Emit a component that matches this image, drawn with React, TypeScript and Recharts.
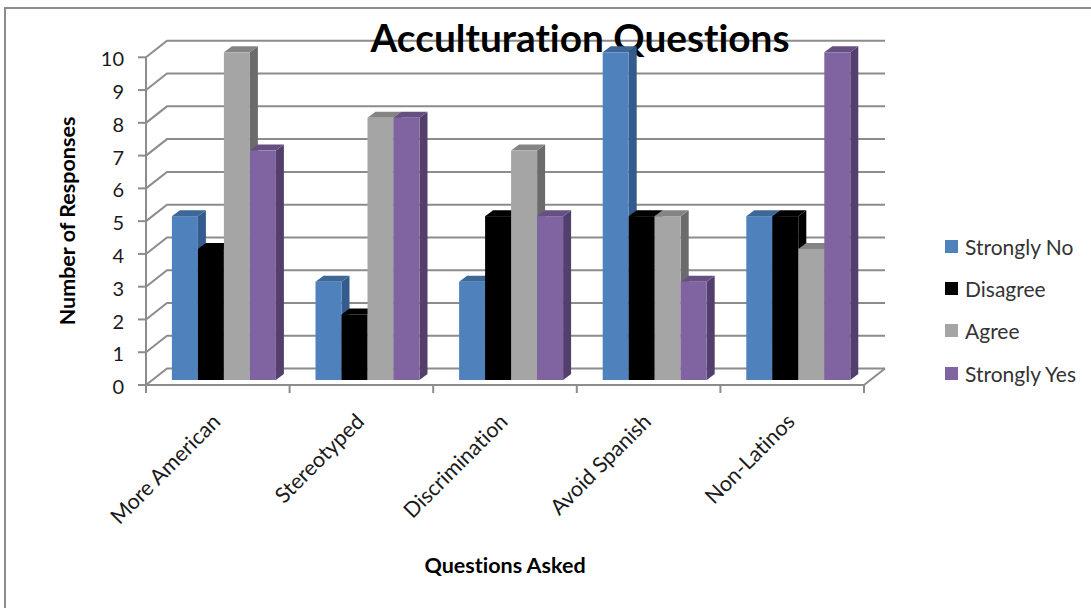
import React from "react";
import { BarChart, Bar, XAxis, YAxis, CartesianGrid, Legend } from "recharts";

// Survey responses per question
const questions = ["More American", "Stereotyped", "Discrimination", "Avoid Spanish", "Non-Latinos"];
const stronglyNo = [5, 3, 3, 10, 5];
const disagree = [4, 2, 5, 5, 5];
const agree = [10, 8, 7, 5, 4];
const stronglyYes = [7, 8, 5, 3, 10];
const yTicks = [0, 1, 2, 3, 4, 5, 6, 7, 8, 9, 10];

const rows = questions.map((question, i) => ({
  question,
  stronglyNo: stronglyNo[i],
  disagree: disagree[i],
  agree: agree[i],
  stronglyYes: stronglyYes[i],
}));

const FONT = "Lato, 'Open Sans', sans-serif";
const GRID = "#8c8c8c";
const TEXT = "#1a1a1a";
const NO_LIGATURES = { fontVariantLigatures: "none" } as const;

// Chart frame
const WIDTH = 1091;
const HEIGHT = 608;
const PLOT_LEFT = 146;
const PLOT_RIGHT = 864;
const PLOT_TOP = 57.3;
const PLOT_BOTTOM = 385;
const BAND = (PLOT_RIGHT - PLOT_LEFT) / questions.length;
const X_AXIS_HEIGHT = 60;

// Perspective of the back wall and of the bar blocks
const WALL_DX = 21;
const WALL_DY = -16.5;
const BAR_SHIFT_X = 5.9;
const BAR_SHIFT_Y = -5;
const BAR_DX = 8;
const BAR_DY = -6;

const faces: Record<string, { top: string; side: string }> = {
  "#4F81BD": { top: "#3E6797", side: "#335C8C" },
  "#000000": { top: "#000000", side: "#000000" },
  "#A5A5A5": { top: "#848484", side: "#6B6B6B" },
  "#8064A2": { top: "#665082", side: "#533F6E" },
};

// A bar drawn as a block: front, top and right faces
function Block(props: any) {
  const { x, y, width, height, fill } = props;
  const l = x + BAR_SHIFT_X;
  const r = l + width;
  const t = y + BAR_SHIFT_Y;
  const b = t + height;
  const f = faces[fill];
  return (
    <g>
      <polygon
        points={`${r},${t} ${r + BAR_DX},${t + BAR_DY} ${r + BAR_DX},${b + BAR_DY} ${r},${b}`}
        fill={f.side}
      />
      <polygon
        points={`${l},${t} ${l + BAR_DX},${t + BAR_DY} ${r + BAR_DX},${t + BAR_DY} ${r},${t}`}
        fill={f.top}
      />
      <rect x={l} y={t} width={width} height={height} fill={fill} />
    </g>
  );
}

// A gridline running from the front edge up the side wall and along the back wall;
// the lowest one also closes the floor on the right
function WallLine(props: any) {
  const { x1, x2, y1 } = props;
  const isFloor = Math.abs(y1 - PLOT_BOTTOM) < 1;
  return (
    <g>
      <polyline
        points={`${x1},${y1} ${x1 + WALL_DX},${y1 + WALL_DY} ${x2 + WALL_DX},${y1 + WALL_DY}`}
        fill="none"
        stroke={GRID}
        strokeWidth={2}
      />
      {isFloor && (
        <line x1={x2} y1={y1} x2={x2 + WALL_DX} y2={y1 + WALL_DY} stroke={GRID} strokeWidth={2} />
      )}
    </g>
  );
}

// Rotated category label with tick marks on the band edges
function CategoryTick(props: any) {
  const { x, y, payload, index } = props;
  const axisY = PLOT_BOTTOM;
  return (
    <g>
      <line x1={x - BAND / 2} x2={x - BAND / 2} y1={axisY} y2={axisY + 8} stroke={GRID} strokeWidth={2} />
      {index === questions.length - 1 && (
        <line x1={x + BAND / 2} x2={x + BAND / 2} y1={axisY} y2={axisY + 8} stroke={GRID} strokeWidth={2} />
      )}
      <text
        x={x + 4}
        y={y + 30}
        textAnchor="end"
        transform={`rotate(-45 ${x + 4} ${y + 30})`}
        fontFamily={FONT}
        fontSize={21.5}
        fill={TEXT}
        style={NO_LIGATURES}
      >
        {payload.value}
      </text>
    </g>
  );
}

function LegendList({ payload }: any) {
  return (
    <div style={{ fontFamily: FONT, fontSize: 21, color: "#333333", ...NO_LIGATURES }}>
      {(payload || []).map((item: any) => (
        <div key={item.value} style={{ display: "flex", alignItems: "center", height: 42.3 }}>
          <span style={{ width: 13, height: 13, background: item.color, marginRight: 7, display: "block" }} />
          <span style={{ whiteSpace: "nowrap" }}>{item.value}</span>
        </div>
      ))}
    </div>
  );
}

export default function App() {
  return (
    <div style={{ position: "absolute", left: 0, top: 0, width: WIDTH, height: HEIGHT, background: "#fff", overflow: "hidden" }}>
      <div
        style={{
          position: "absolute",
          left: 4,
          top: 7,
          width: WIDTH,
          height: HEIGHT,
          borderLeft: `2px solid ${GRID}`,
          borderTop: `2px solid ${GRID}`,
        }}
      />
      <div style={{ position: "absolute", left: 0, top: 0 }}>
        <BarChart
          width={WIDTH}
          height={HEIGHT}
          data={rows}
          barGap={0}
          barSize={26}
          margin={{
            top: PLOT_TOP,
            bottom: HEIGHT - PLOT_BOTTOM - X_AXIS_HEIGHT,
            left: PLOT_LEFT - 60,
            right: WIDTH - PLOT_RIGHT,
          }}
        >
          <CartesianGrid vertical={false} horizontal={(p: any) => <WallLine key={p.key} {...p} />} />
          <XAxis
            dataKey="question"
            interval={0}
            height={X_AXIS_HEIGHT}
            tick={(p: any) => <CategoryTick {...p} />}
            tickLine={false}
            axisLine={{ stroke: GRID, strokeWidth: 2 }}
          />
          <YAxis
            width={60}
            domain={[0, 10]}
            ticks={yTicks}
            interval={0}
            tickSize={8}
            tickMargin={14}
            axisLine={{ stroke: GRID, strokeWidth: 2 }}
            tickLine={{ stroke: GRID, strokeWidth: 2 }}
            tick={{ fontFamily: FONT, fontSize: 20, fill: TEXT, dy: 2 }}
          />
          <Legend
            layout="vertical"
            align="center"
            verticalAlign="middle"
            itemSorter={null}
            wrapperStyle={{ left: 945, top: 225, width: 146 }}
            content={(p: any) => <LegendList {...p} />}
          />
          <Bar dataKey="stronglyNo" name="Strongly No" fill="#4F81BD" shape={Block} isAnimationActive={false} />
          <Bar dataKey="disagree" name="Disagree" fill="#000000" shape={Block} isAnimationActive={false} />
          <Bar dataKey="agree" name="Agree" fill="#A5A5A5" shape={Block} isAnimationActive={false} />
          <Bar dataKey="stronglyYes" name="Strongly Yes" fill="#8064A2" shape={Block} isAnimationActive={false} />
          <text x={580} y={52} textAnchor="middle" fontFamily={FONT} fontWeight={700} fontSize={38.8} fill="#000" style={NO_LIGATURES}>
            Acculturation Questions
          </text>
          <text
            x={0}
            y={0}
            transform="translate(75 221) rotate(-90)"
            textAnchor="middle"
            fontFamily={FONT}
            fontWeight={700}
            fontSize={21.5}
            fill="#000"
            style={NO_LIGATURES}
          >
            Number of Responses
          </text>
          <text x={505} y={573} textAnchor="middle" fontFamily={FONT} fontWeight={700} fontSize={21.5} fill="#000" style={NO_LIGATURES}>
            Questions Asked
          </text>
        </BarChart>
      </div>
    </div>
  );
}
